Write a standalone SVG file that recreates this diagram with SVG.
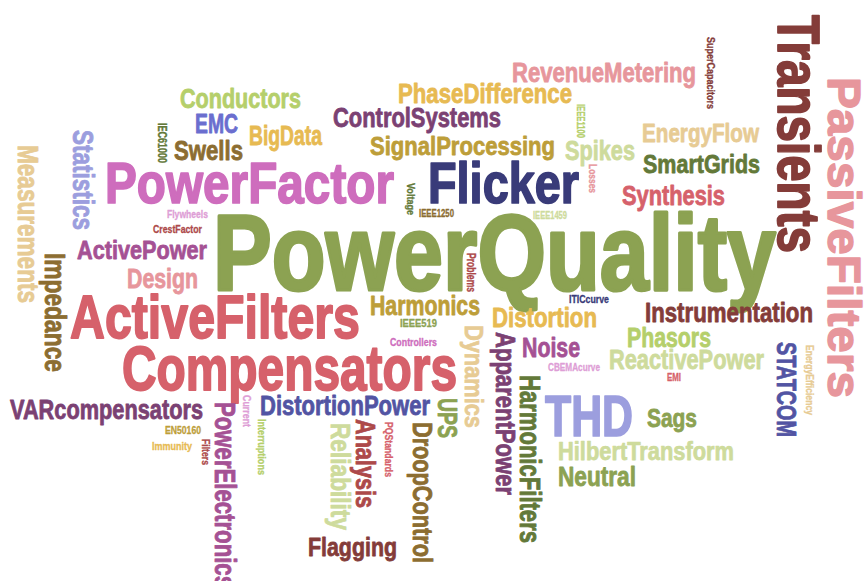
<svg xmlns="http://www.w3.org/2000/svg" width="867" height="581" viewBox="0 0 867 581">
<style>
text{font-family:"Liberation Sans Narrow","Liberation Sans",Arial,sans-serif;font-weight:bold;stroke-width:0.03em;stroke-linejoin:round;}
.c1{fill:#393b79;stroke:#393b79}.c2{fill:#5254a3;stroke:#5254a3}.c3{fill:#6b6ecf;stroke:#6b6ecf}.c4{fill:#9c9ede;stroke:#9c9ede}
.c5{fill:#637939;stroke:#637939}.c6{fill:#8ca252;stroke:#8ca252}.c7{fill:#b5cf6b;stroke:#b5cf6b}.c8{fill:#cedb9c;stroke:#cedb9c}
.c9{fill:#8c6d31;stroke:#8c6d31}.c10{fill:#bd9e39;stroke:#bd9e39}.c11{fill:#e7ba52;stroke:#e7ba52}.c12{fill:#e7cb94;stroke:#e7cb94}
.c13{fill:#843c39;stroke:#843c39}.c14{fill:#ad494a;stroke:#ad494a}.c15{fill:#d6616b;stroke:#d6616b}.c16{fill:#e7969c;stroke:#e7969c}
.c17{fill:#7b4173;stroke:#7b4173}.c18{fill:#a55194;stroke:#a55194}.c19{fill:#ce6dbd;stroke:#ce6dbd}.c20{fill:#de9ed6;stroke:#de9ed6}
</style>
<rect width="867" height="581" fill="#ffffff"/>
<g id="words">
<g id="w-PowerQuality"><text class="c6" x="213" y="290" font-size="108" textLength="563" lengthAdjust="spacingAndGlyphs">PowerQuality</text></g>
<g id="w-PowerFactor"><text class="c19" x="105" y="203" font-size="58" textLength="289" lengthAdjust="spacingAndGlyphs">PowerFactor</text></g>
<g id="w-Flicker"><text class="c1" x="428" y="203" font-size="58" textLength="151" lengthAdjust="spacingAndGlyphs">Flicker</text></g>
<g id="w-ActiveFilters"><text class="c15" x="70" y="338" font-size="61" textLength="290" lengthAdjust="spacingAndGlyphs">ActiveFilters</text></g>
<g id="w-Compensators"><text class="c15" x="122" y="390" font-size="63" textLength="335" lengthAdjust="spacingAndGlyphs">Compensators</text></g>
<g id="w-THD"><text class="c4" x="545" y="436" font-size="58" textLength="88" lengthAdjust="spacingAndGlyphs">THD</text></g>
<g id="w-DistortionPower"><text class="c2" x="260" y="415" font-size="27" textLength="170" lengthAdjust="spacingAndGlyphs">DistortionPower</text></g>
<g id="w-VARcompensators"><text class="c17" x="10" y="419" font-size="28" textLength="193" lengthAdjust="spacingAndGlyphs">VARcompensators</text></g>
<g id="w-Instrumentation"><text class="c13" x="645" y="322" font-size="27" textLength="168" lengthAdjust="spacingAndGlyphs">Instrumentation</text></g>
<g id="w-Phasors"><text class="c7" x="627" y="347" font-size="27" textLength="84" lengthAdjust="spacingAndGlyphs">Phasors</text></g>
<g id="w-ReactivePower"><text class="c8" x="609" y="369" font-size="27" textLength="155" lengthAdjust="spacingAndGlyphs">ReactivePower</text></g>
<g id="w-Sags"><text class="c6" x="647" y="427" font-size="26" textLength="50" lengthAdjust="spacingAndGlyphs">Sags</text></g>
<g id="w-HilbertTransform"><text class="c8" x="558" y="460" font-size="25" textLength="176" lengthAdjust="spacingAndGlyphs">HilbertTransform</text></g>
<g id="w-Neutral"><text class="c6" x="558" y="486" font-size="27" textLength="78" lengthAdjust="spacingAndGlyphs">Neutral</text></g>
<g id="w-Noise"><text class="c18" x="522" y="357" font-size="27" textLength="58" lengthAdjust="spacingAndGlyphs">Noise</text></g>
<g id="w-Distortion"><text class="c11" x="492" y="327" font-size="27" textLength="105" lengthAdjust="spacingAndGlyphs">Distortion</text></g>
<g id="w-Harmonics"><text class="c10" x="370" y="315" font-size="27" textLength="110" lengthAdjust="spacingAndGlyphs">Harmonics</text></g>
<g id="w-IEEE519"><text class="c6" x="400" y="327" font-size="10" textLength="37" lengthAdjust="spacingAndGlyphs">IEEE519</text></g>
<g id="w-Controllers"><text class="c19" x="390" y="346" font-size="10" textLength="47" lengthAdjust="spacingAndGlyphs">Controllers</text></g>
<g id="w-CBEMAcurve"><text class="c20" x="548" y="371" font-size="11" textLength="52" lengthAdjust="spacingAndGlyphs">CBEMAcurve</text></g>
<g id="w-ITICcurve"><text class="c1" x="569" y="303" font-size="11" textLength="40" lengthAdjust="spacingAndGlyphs">ITICcurve</text></g>
<g id="w-EMI"><text class="c15" x="667" y="381" font-size="11" textLength="14" lengthAdjust="spacingAndGlyphs">EMI</text></g>
<g id="w-Flagging"><text class="c13" x="308" y="556" font-size="26" textLength="89" lengthAdjust="spacingAndGlyphs">Flagging</text></g>
<g id="w-Design"><text class="c16" x="127" y="288" font-size="27" textLength="71" lengthAdjust="spacingAndGlyphs">Design</text></g>
<g id="w-ActivePower"><text class="c18" x="77" y="259" font-size="26" textLength="130" lengthAdjust="spacingAndGlyphs">ActivePower</text></g>
<g id="w-CrestFactor"><text class="c14" x="153" y="233" font-size="10.5" textLength="49" lengthAdjust="spacingAndGlyphs">CrestFactor</text></g>
<g id="w-Flywheels"><text class="c20" x="167" y="218" font-size="11" textLength="41" lengthAdjust="spacingAndGlyphs">Flywheels</text></g>
<g id="w-Swells"><text class="c9" x="174" y="160" font-size="28" textLength="69" lengthAdjust="spacingAndGlyphs">Swells</text></g>
<g id="w-EMC"><text class="c3" x="195" y="133" font-size="27" textLength="43" lengthAdjust="spacingAndGlyphs">EMC</text></g>
<g id="w-Conductors"><text class="c7" x="180" y="108" font-size="27" textLength="121" lengthAdjust="spacingAndGlyphs">Conductors</text></g>
<g id="w-BigData"><text class="c11" x="249" y="145" font-size="27" textLength="73" lengthAdjust="spacingAndGlyphs">BigData</text></g>
<g id="w-ControlSystems"><text class="c17" x="333" y="127" font-size="27" textLength="168" lengthAdjust="spacingAndGlyphs">ControlSystems</text></g>
<g id="w-PhaseDifference"><text class="c11" x="398" y="103" font-size="27" textLength="174" lengthAdjust="spacingAndGlyphs">PhaseDifference</text></g>
<g id="w-RevenueMetering"><text class="c16" x="512" y="82" font-size="27" textLength="184" lengthAdjust="spacingAndGlyphs">RevenueMetering</text></g>
<g id="w-SignalProcessing"><text class="c10" x="370" y="155" font-size="26" textLength="185" lengthAdjust="spacingAndGlyphs">SignalProcessing</text></g>
<g id="w-Spikes"><text class="c8" x="565" y="160" font-size="27" textLength="70" lengthAdjust="spacingAndGlyphs">Spikes</text></g>
<g id="w-EnergyFlow"><text class="c12" x="642" y="142" font-size="26" textLength="117" lengthAdjust="spacingAndGlyphs">EnergyFlow</text></g>
<g id="w-SmartGrids"><text class="c5" x="643" y="173" font-size="26" textLength="117" lengthAdjust="spacingAndGlyphs">SmartGrids</text></g>
<g id="w-Synthesis"><text class="c15" x="622" y="205" font-size="27" textLength="103" lengthAdjust="spacingAndGlyphs">Synthesis</text></g>
<g id="w-IEEE1250"><text class="c9" x="419" y="217" font-size="11" textLength="35" lengthAdjust="spacingAndGlyphs">IEEE1250</text></g>
<g id="w-IEEE1459"><text class="c8" x="533" y="219" font-size="11" textLength="34" lengthAdjust="spacingAndGlyphs">IEEE1459</text></g>
<g id="w-Immunity"><text class="c11" x="152" y="450" font-size="11" textLength="40" lengthAdjust="spacingAndGlyphs">Immunity</text></g>
<g id="w-EN50160"><text class="c10" x="165" y="434" font-size="10" textLength="36" lengthAdjust="spacingAndGlyphs">EN50160</text></g>

<g id="w-Transients"><text class="c13" transform="translate(778,15) rotate(90)" font-size="59" textLength="238" lengthAdjust="spacingAndGlyphs">Transients</text></g>
<g id="w-PassiveFilters"><text class="c16" transform="translate(828,77) rotate(90)" font-size="46" textLength="321" lengthAdjust="spacingAndGlyphs">PassiveFilters</text></g>
<g id="w-STATCOM"><text class="c2" transform="translate(777,342) rotate(90)" font-size="28" textLength="95" lengthAdjust="spacingAndGlyphs">STATCOM</text></g>
<g id="w-EnergyEfficiency"><text class="c12" transform="translate(806,345) rotate(90)" font-size="10" textLength="70" lengthAdjust="spacingAndGlyphs">EnergyEfficiency</text></g>
<g id="w-SuperCapacitors"><text class="c13" transform="translate(707,37) rotate(90)" font-size="11" textLength="72" lengthAdjust="spacingAndGlyphs">SuperCapacitors</text></g>
<g id="w-IEEE1100"><text class="c7" transform="translate(577,104) rotate(90)" font-size="11" textLength="34" lengthAdjust="spacingAndGlyphs">IEEE1100</text></g>
<g id="w-Losses"><text class="c16" transform="translate(589,164) rotate(90)" font-size="11" textLength="29" lengthAdjust="spacingAndGlyphs">Losses</text></g>
<g id="w-Voltage"><text class="c5" transform="translate(407,183) rotate(90)" font-size="10" textLength="32" lengthAdjust="spacingAndGlyphs">Voltage</text></g>
<g id="w-Problems"><text class="c14" transform="translate(467,253) rotate(90)" font-size="12" textLength="39" lengthAdjust="spacingAndGlyphs">Problems</text></g>
<g id="w-IEC61000"><text class="c5" transform="translate(158,123) rotate(90)" font-size="12" textLength="40" lengthAdjust="spacingAndGlyphs">IEC61000</text></g>
<g id="w-Statistics"><text class="c4" transform="translate(73,130) rotate(90)" font-size="29" textLength="100" lengthAdjust="spacingAndGlyphs">Statistics</text></g>
<g id="w-Measurements"><text class="c12" transform="translate(18,145) rotate(90)" font-size="29" textLength="158" lengthAdjust="spacingAndGlyphs">Measurements</text></g>
<g id="w-Impedance"><text class="c9" transform="translate(45,253) rotate(90)" font-size="29" textLength="119" lengthAdjust="spacingAndGlyphs">Impedance</text></g>
<g id="w-PowerElectronics"><text class="c18" transform="translate(215,402) rotate(90)" font-size="29" textLength="186" lengthAdjust="spacingAndGlyphs">PowerElectronics</text></g>
<g id="w-Current"><text class="c20" transform="translate(243,395) rotate(90)" font-size="11" textLength="32" lengthAdjust="spacingAndGlyphs">Current</text></g>
<g id="w-Interruptions"><text class="c7" transform="translate(258,419) rotate(90)" font-size="11" textLength="56" lengthAdjust="spacingAndGlyphs">Interruptions</text></g>
<g id="w-Filters"><text class="c14" transform="translate(202,439) rotate(90)" font-size="11" textLength="26" lengthAdjust="spacingAndGlyphs">Filters</text></g>
<g id="w-Reliability"><text class="c8" transform="translate(331,423) rotate(90)" font-size="27" textLength="107" lengthAdjust="spacingAndGlyphs">Reliability</text></g>
<g id="w-Analysis"><text class="c14" transform="translate(356,419) rotate(90)" font-size="27" textLength="89" lengthAdjust="spacingAndGlyphs">Analysis</text></g>
<g id="w-PQStandards"><text class="c15" transform="translate(385,422) rotate(90)" font-size="10" textLength="55" lengthAdjust="spacingAndGlyphs">PQStandards</text></g>
<g id="w-DroopControl"><text class="c9" transform="translate(413,422) rotate(90)" font-size="28" textLength="141" lengthAdjust="spacingAndGlyphs">DroopControl</text></g>
<g id="w-UPS"><text class="c6" transform="translate(438,398) rotate(90)" font-size="28" textLength="40" lengthAdjust="spacingAndGlyphs">UPS</text></g>
<g id="w-Dynamics"><text class="c12" transform="translate(465,325) rotate(90)" font-size="25" textLength="103" lengthAdjust="spacingAndGlyphs">Dynamics</text></g>
<g id="w-ApparentPower"><text class="c17" transform="translate(496,332) rotate(90)" font-size="28" textLength="163" lengthAdjust="spacingAndGlyphs">ApparentPower</text></g>
<g id="w-HarmonicFilters"><text class="c5" transform="translate(520,375) rotate(90)" font-size="30" textLength="168" lengthAdjust="spacingAndGlyphs">HarmonicFilters</text></g>
</g>
</svg>
